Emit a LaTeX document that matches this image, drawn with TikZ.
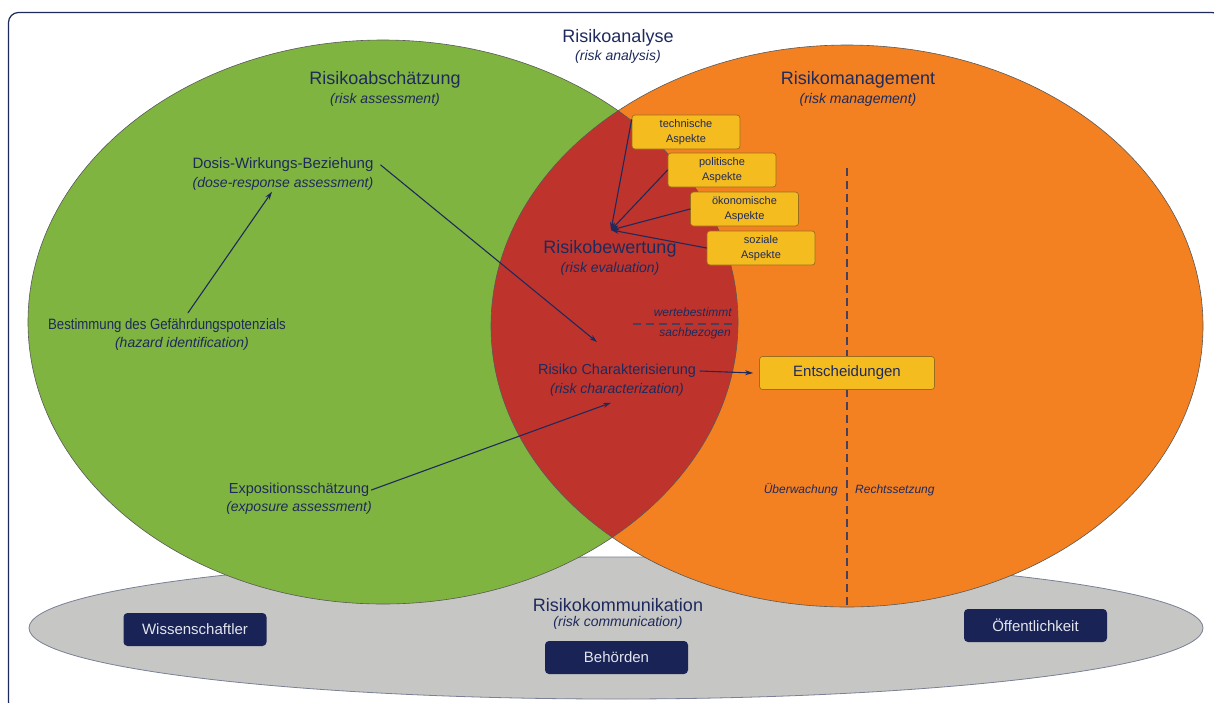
\documentclass[tikz,border=0pt]{standalone}
\usepackage{fontspec}
\setmainfont{Liberation Sans}
\usetikzlibrary{arrows.meta}
\definecolor{navy}{HTML}{1E2A5C}
\definecolor{gruen}{HTML}{80B441}
\definecolor{orange}{HTML}{F38121}
\definecolor{rot}{HTML}{BE342C}
\definecolor{grau}{HTML}{C6C6C4}
\definecolor{gelb}{HTML}{F5BC1F}
\definecolor{aspektrand}{HTML}{9C6E1C}
\definecolor{boxblau}{HTML}{1A2355}
\definecolor{boxtext}{HTML}{E2E5EE}
\definecolor{strich}{HTML}{4A3F58}
\begin{document}
\begin{tikzpicture}[x=1pt, y=-1pt, line cap=round, line join=round, >={Stealth[length=8pt,width=5pt]}]
	\tikzset{
		head/.style={text=navy, font=\fontsize{18}{20}\selectfont, inner sep=1pt},
		item/.style={text=navy, font=\fontsize{14.5}{17}\selectfont, inner sep=1pt},
		engl/.style={text=navy, font=\fontsize{14}{16}\selectfont\itshape, inner sep=1pt},
		note/.style={text=navy, font=\fontsize{12}{14}\selectfont\itshape, inner sep=1pt},
		aspekt/.style={draw=aspektrand, line width=0.7pt, fill=gelb, rounded corners=3pt, minimum width=108pt, minimum height=34pt, align=center, inner sep=0pt, text=navy, font=\fontsize{11}{15}\selectfont},
		gruppe/.style={fill=boxblau, rounded corners=4pt, minimum width=143pt, minimum height=33pt, text=boxtext, font=\fontsize{15}{17}\selectfont},
		pfeil/.style={->, draw=navy, line width=1.1pt},
		grenze/.style={draw=strich, line width=1.4pt, dash pattern=on 8pt off 5pt, line cap=butt}
	}
	\useasboundingbox (0,0) rectangle (1214,702);
	\clip (0,0) rectangle (1214,702);
	\draw[navy, line width=1.2pt, rounded corners=10pt] (8.5,12.5) rectangle (1222,712);

	% drei Bereiche
	\draw[fill=grau, draw=navy!45!grau, line width=0.8pt] (616,628) ellipse [x radius=587pt, y radius=71pt];
	\fill[gruen] (383,322) ellipse [x radius=355pt, y radius=282pt];
	\fill[orange] (847,326) ellipse [x radius=356pt, y radius=281pt];
	\begin{scope}
		\clip (383,322) ellipse [x radius=355pt, y radius=282pt];
		\fill[rot] (847,326) ellipse [x radius=356pt, y radius=281pt];
	\end{scope}
	\draw[black!65, line width=0.6pt] (383,322) ellipse [x radius=355pt, y radius=282pt]
		(847,326) ellipse [x radius=356pt, y radius=281pt];

	% Trennlinien
	\draw[grenze] (847,168) -- (847,607);
	\draw[grenze] (633,324) -- (737,324);

	\node[head] (analyse) at (618,38) {Risikoanalyse};
	\node[engl] (analyseE) at (618,57) {(risk analysis)};
	\node[head] (abschaetz) at (385,80) {Risikoabschätzung};
	\node[engl] (abschaetzE) at (385,100) {(risk assessment)};
	\node[head] (management) at (858,80) {Risikomanagement};
	\node[engl] (managementE) at (858,100) {(risk management)};

	\node[item, font=\fontsize{15}{17}\selectfont] (dosis) at (283,165) {Dosis-Wirkungs-Beziehung};
	\node[engl] (dosisE) at (283,184) {(dose-response assessment)};
	\node[item, font=\fontsize{15}{17}\selectfont] (bestimmung) at (167,326) {\scalebox{0.88}[1]{Bestimmung des Gefährdungspotenzials}};
	\node[engl] (bestimmungE) at (182,344) {(hazard identification)};
	\node[item] (exposition) at (299,490) {Expositionsschätzung};
	\node[engl] (expositionE) at (299,508) {(exposure assessment)};

	\node[head] (bewertung) at (610,249) {Risikobewertung};
	\node[engl] (bewertungE) at (610,269) {(risk evaluation)};
	\node[item] (charakter) at (617,371) {Risiko Charakterisierung};
	\node[engl] (charakterE) at (617,390) {(risk characterization)};

	\node[note, anchor=east] (werte) at (733,312) {wertebestimmt};
	\node[note, anchor=east] (sach) at (732,333) {sachbezogen};
	\node[note, anchor=east] (ueberw) at (839,490) {Überwachung};
	\node[note, anchor=west] (rechts) at (854,490) {Rechtssetzung};

	\node[aspekt] (tech) at (686,132) {technische\\Aspekte};
	\node[aspekt] (pol) at (722,170) {politische\\Aspekte};
	\node[aspekt] (oeko) at (744.5,209) {ökonomische\\Aspekte};
	\node[aspekt] (sozial) at (761,248) {soziale\\Aspekte};
	\coordinate (ziel) at (611,230);

	\node[aspekt, minimum width=175pt, minimum height=33pt, font=\fontsize{15}{17}\selectfont] (entsch) at (847,373) {Entscheidungen};

	\node[head] (komm) at (618,605) {Risikokommunikation};
	\node[engl] (kommE) at (618,623) {(risk communication)};
	\node[gruppe] (wiss) at (195,629.5) {Wissenschaftler};
	\node[gruppe] (behoerden) at (616.5,657.5) {Behörden};
	\node[gruppe] (oeff) at (1035.5,625.5) {Öffentlichkeit};

	% Pfeile
	\draw[pfeil] ([xshift=21pt,yshift=5pt]bestimmung.north) -- ([xshift=-11pt]dosisE.south);
	\draw[pfeil] ([xshift=6pt]dosis.east) -- ([xshift=-20pt,yshift=21pt]charakter.north);
	\draw[pfeil] ([xshift=1pt]exposition.east) -- ([xshift=-6pt,yshift=-5pt]charakterE.south);
	\draw[pfeil] ([xshift=3pt]charakter.east) -- ([xshift=-6pt]entsch.west);
	\draw[pfeil] ([yshift=-5pt]tech.north west) -- (ziel);
	\draw[pfeil] (pol.west) -- (ziel);
	\draw[pfeil] (oeko.west) -- (ziel);
	\draw[pfeil] (sozial.west) -- (ziel);
\end{tikzpicture}
\end{document}
